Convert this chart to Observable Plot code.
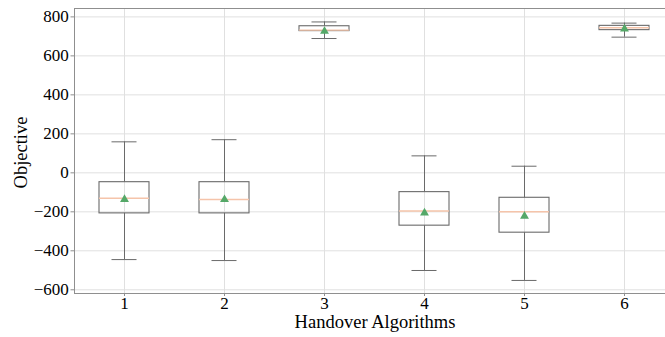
<!DOCTYPE html>
<html><head><meta charset="utf-8">
<script src="https://cdn.jsdelivr.net/npm/d3@7"></script>
<script src="https://cdn.jsdelivr.net/npm/@observablehq/plot@0.6"></script>
<style>
body{margin:0;background:#fff}
#chart{width:665px;height:337px;overflow:hidden}
#chart svg, #chart svg text{font-family:"Liberation Serif",serif !important}
#chart g[aria-label$="tick label"], #chart g[aria-label$="tick label"] text{font-size:17px !important;font-variant:normal !important}
</style>
</head><body><div id="chart"></div>
<script>
const categories = [1, 2, 3, 4, 5, 6];
const whiskerLow = [-445, -450, 689, -501, -552, 696];
const q1 = [-208, -208, 727, -271, -307, 732];
const median = [-130, -137, 732, -196, -200, 744];
const q3 = [-48, -48, 752, -99, -128, 754];
const whiskerHigh = [159, 170, 774, 87, 34, 768];
const mean = [-136, -137, 726, -206, -222, 738];
const yTicks = [-600, -400, -200, 0, 200, 400, 600, 800];
const xDomain = [0.5, 6.41];
const yDomain = [-619, 843];
const xLabel = "Handover Algorithms";
const yLabel = "Objective";

const rows = categories.map((c, i) => ({
  c, lo: whiskerLow[i], q1: q1[i], med: median[i], q3: q3[i], hi: whiskerHigh[i], mean: mean[i]
}));
const boxHalf = 0.25, capHalf = 0.125;
const edge = "#6a6a6a";
const frameColor = "#8f8f8f";
const gridColor = "#e0e0e0";
const serif = "Liberation Serif";

const plot = Plot.plot({
  width: 665, height: 337,
  marginLeft: 74, marginRight: 0, marginTop: 8, marginBottom: 44,
  style: {fontFamily: serif, fontSize: "17px", background: "#fff", color: "#000"},
  x: {type: "linear", domain: xDomain},
  y: {domain: yDomain},
  marks: [
    Plot.gridX(categories, {stroke: gridColor, strokeOpacity: 1}),
    Plot.gridY(yTicks, {stroke: gridColor, strokeOpacity: 1}),
    Plot.axisX(categories, {tickSize: 3, tickPadding: 0, stroke: frameColor, label: null, tickFormat: d => String(d), fontSize: 17, fontFamily: serif}),
    Plot.axisY(yTicks, {tickSize: 3.5, tickPadding: 2.2, stroke: frameColor, label: null, tickFormat: d => d < 0 ? "\u2212" + Math.abs(d) : String(d), fontSize: 17, fontFamily: serif}),
    Plot.ruleX([xDomain[0]], {stroke: frameColor}),
    Plot.ruleY(yDomain, {stroke: frameColor}),
    Plot.ruleX(rows, {x: "c", y1: "lo", y2: "q1", stroke: edge}),
    Plot.ruleX(rows, {x: "c", y1: "q3", y2: "hi", stroke: edge}),
    Plot.ruleY(rows, {y: "lo", x1: d => d.c - capHalf, x2: d => d.c + capHalf, stroke: edge}),
    Plot.ruleY(rows, {y: "hi", x1: d => d.c - capHalf, x2: d => d.c + capHalf, stroke: edge}),
    Plot.rect(rows, {x1: d => d.c - boxHalf, x2: d => d.c + boxHalf, y1: "q1", y2: "q3", fill: "none", stroke: edge, strokeWidth: 1.1}),
    Plot.ruleY(rows, {y: "med", x1: d => d.c - boxHalf, x2: d => d.c + boxHalf, stroke: "#f5c4aa", strokeWidth: 1.4}),
    Plot.dot(rows, {x: "c", y: "mean", symbol: "triangle", r: 3.3, fill: "#55a868", stroke: "none"}),
    Plot.text([xLabel], {text: d => d, frameAnchor: "bottom", textAnchor: "middle", lineAnchor: "top", dx: 5, dy: 21, fontSize: 18.5, fontFamily: serif}),
    Plot.text([yLabel], {text: d => d, frameAnchor: "left", textAnchor: "middle", lineAnchor: "top", rotate: -90, dx: -61, dy: 1.5, fontSize: 18.5, fontFamily: serif})
  ]
});
document.getElementById("chart").appendChild(plot);
</script>
</body></html>
